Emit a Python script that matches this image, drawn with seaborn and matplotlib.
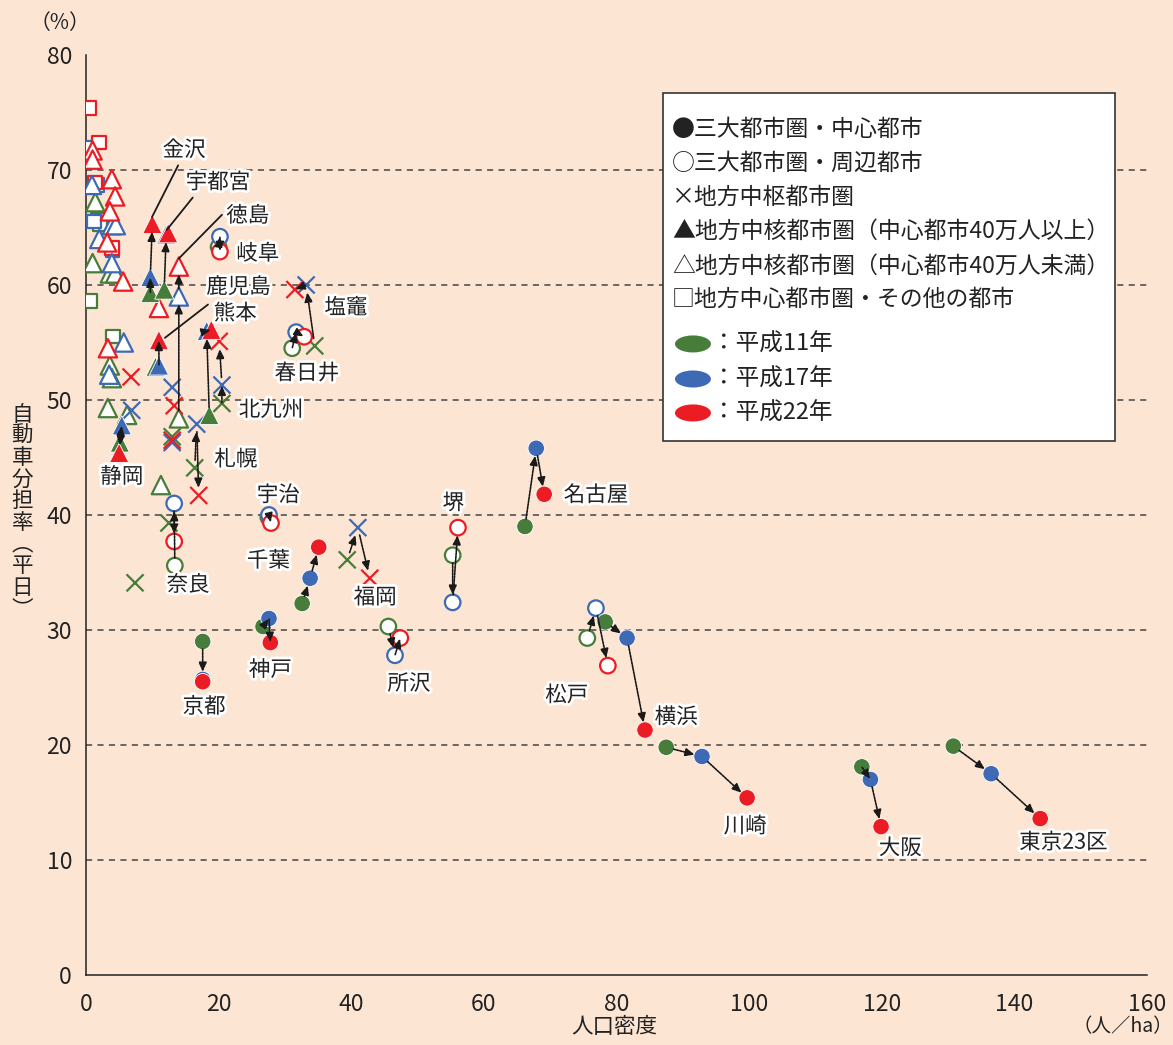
import numpy as np
import pandas as pd
import matplotlib
matplotlib.use("Agg")
import matplotlib.pyplot as plt
import matplotlib.patheffects as pe
from matplotlib.patches import Rectangle, Ellipse
import seaborn as sns

sns.set_theme(style="white")
plt.rcParams['font.family'] = ['Noto Sans CJK JP', 'DejaVu Sans']

BG = "#FDE5D3"
GREEN = "#477C3B"
BLUE = "#3D69B5"
RED = "#EC1C24"

# ---------------- data ----------------
years = ["H11", "H17", "H22"]

# named cities: density (x) and car share (y) for H11, H17, H22
cities = ["東京23区", "大阪", "川崎", "横浜", "松戸", "名古屋", "堺", "所沢", "福岡",
          "千葉", "神戸", "京都", "宇治", "奈良", "札幌", "北九州", "熊本", "鹿児島",
          "金沢", "宇都宮", "静岡", "徳島", "岐阜", "塩竈", "春日井"]
city_cat = ["core", "core", "core", "core", "suburb", "core", "suburb", "suburb", "hub",
            "core", "core", "core", "suburb", "suburb", "hub", "hub", "mid_big", "mid_big",
            "mid_big", "mid_big", "mid_big", "mid_small", "suburb", "hub", "suburb"]
x_h11 = [130.8, 117.0, 87.5, 78.3, 75.6, 66.2, 55.3, 45.6, 39.4,
         32.6, 26.7, 17.6, 27.5, 13.4, 16.4, 20.5, 18.6, 10.5,
         9.7, 11.8, 5.1, 14.0, 20.0, 34.5, 31.1]
y_h11 = [19.9, 18.1, 19.8, 30.7, 29.3, 39.0, 36.5, 30.3, 36.1,
         32.3, 30.3, 29.0, 39.8, 35.6, 44.1, 49.7, 48.7, 52.9,
         59.3, 59.6, 46.3, 48.4, 63.3, 54.7, 54.5]
x_h17 = [136.5, 118.3, 92.9, 81.6, 76.9, 67.9, 55.3, 46.6, 41.0,
         33.8, 27.6, 17.6, 27.6, 13.3, 16.7, 20.5, 18.2, 11.0,
         9.7, 12.1, 5.4, 14.0, 20.2, 33.2, 31.7]
y_h17 = [17.5, 17.0, 19.0, 29.3, 31.9, 45.8, 32.4, 27.8, 38.9,
         34.5, 31.0, 25.7, 40.0, 41.0, 47.9, 51.3, 56.0, 53.0,
         60.7, 64.4, 47.8, 59.0, 64.2, 60.0, 55.9]
x_h22 = [143.9, 119.9, 99.7, 84.3, 78.7, 69.1, 56.1, 47.4, 42.8,
         35.1, 27.8, 17.6, 27.9, 13.3, 17.0, 20.1, 18.9, 11.0,
         10.0, 12.4, 5.0, 14.0, 20.2, 31.5, 32.9]
y_h22 = [13.6, 12.9, 15.4, 21.3, 26.9, 41.8, 38.9, 29.3, 34.5,
         37.2, 28.9, 25.5, 39.3, 37.7, 41.7, 55.1, 56.1, 55.2,
         65.3, 64.5, 45.4, 61.6, 62.9, 59.6, 55.5]

# other (unlabelled) cities: category, year, x, y
other_cat = (["other"] * 12 + ["mid_small"] * 25 + ["hub"] * 9)
other_year = (["H22", "H17", "H22", "H17", "H22", "H11", "H11", "H22", "H17", "H11", "H11", "H17"]
              + ["H22", "H22", "H17", "H22", "H11", "H22", "H22", "H17", "H17", "H22", "H11",
                 "H17", "H11", "H11", "H22", "H22", "H22", "H17", "H11", "H17", "H11", "H11",
                 "H11", "H11", "H17"]
              + ["H22", "H17", "H17", "H22", "H11", "H22", "H17", "H11", "H11"])
other_x = ([0.45, 0.6, 2.0, 1.7, 1.4, 1.8, 2.1, 3.9, 4.0, 0.6, 4.1, 1.2]
           + [1.0, 1.0, 0.9, 3.9, 1.4, 4.4, 3.6, 3.9, 4.5, 3.2, 1.0,
              3.9, 3.6, 4.4, 5.6, 11.0, 3.3, 5.7, 3.6, 3.5, 3.9, 3.3,
              6.2, 11.3, 2.0]
           + [6.8, 6.9, 13.0, 13.3, 13.0, 13.0, 13.0, 12.5, 7.4])
other_y = ([75.4, 71.9, 72.4, 68.7, 68.9, 65.7, 65.3, 63.2, 63.0, 58.6, 55.5, 65.5]
           + [71.7, 70.9, 68.7, 69.2, 67.2, 67.7, 66.4, 65.2, 65.2, 63.7, 61.9,
              61.9, 61.0, 61.0, 60.3, 58.0, 54.5, 55.0, 53.0, 52.2, 51.9, 49.3,
              48.7, 42.6, 64.0]
           + [52.0, 49.1, 51.1, 49.5, 46.8, 46.5, 46.3, 39.3, 34.1])

# label positions (data coords) and optional leader line (start, end)
label_pos = {
    "金沢": (14.8, 71.7), "宇都宮": (19.9, 68.9), "徳島": (24.4, 66.0), "岐阜": (25.9, 62.7),
    "鹿児島": (23.0, 59.8), "熊本": (22.5, 57.5), "塩竈": (39.2, 58.0), "春日井": (33.3, 52.3),
    "北九州": (27.9, 49.1), "札幌": (22.6, 44.8), "静岡": (5.4, 43.3), "宇治": (29.0, 41.7),
    "堺": (55.4, 41.0), "名古屋": (76.9, 41.7), "千葉": (27.5, 36.0), "奈良": (15.4, 33.9),
    "福岡": (43.6, 32.8), "神戸": (27.8, 26.5), "京都": (17.8, 23.3), "所沢": (48.7, 25.3),
    "松戸": (72.5, 24.3), "横浜": (89.0, 22.4), "川崎": (99.4, 12.9), "大阪": (122.8, 11.0),
    "東京23区": (147.4, 11.5),
}
leaders = {
    "金沢": ((13.9, 70.4), (9.95, 65.9)),
    "宇都宮": ((16.1, 67.6), (12.2, 64.8)),
    "徳島": ((20.5, 66.1), (14.0, 62.3)),
    "鹿児島": ((18.4, 58.3), (11.9, 55.4)),
}

# ---------------- dataframe ----------------
rows = []
for i, c in enumerate(cities):
    for yr, xs, ys in zip(years, [x_h11, x_h17, x_h22], [y_h11, y_h17, y_h22]):
        rows.append(dict(city=c, cat=city_cat[i], year=yr, x=xs[i], y=ys[i]))
for c, yr, xv, yv in zip(other_cat, other_year, other_x, other_y):
    rows.append(dict(city="", cat=c, year=yr, x=xv, y=yv))
df = pd.DataFrame(rows)
order = {"H11": 0, "H17": 1, "H22": 2}
df["o"] = df["year"].map(order)
df = df.sort_values("o", kind="stable")

palette = {"H11": GREEN, "H17": BLUE, "H22": RED}

# ---------------- figure ----------------
fig = plt.figure(figsize=(11.73, 10.45), dpi=100, facecolor=BG)
ax = fig.add_axes([0.0733, 0.0670, 0.9045, 0.8804])
ax.set_facecolor(BG)

styles = {
    "other": dict(marker="s", s=95, filled=False),
    "mid_small": dict(marker="^", s=175, filled=False),
    "hub": dict(marker="x", s=150, filled=None),
    "mid_big": dict(marker="^", s=190, filled=True),
    "suburb": dict(marker="o", s=125, filled=False),
    "core": dict(marker="o", s=140, filled=True),
}
for cat in ["other", "mid_small", "hub", "mid_big", "suburb", "core"]:
    sub = df[df["cat"] == cat]
    st = styles[cat]
    if st["filled"] is None:
        sns.scatterplot(data=sub, x="x", y="y", hue="year", palette=palette,
                        marker=st["marker"], s=st["s"], linewidth=1.6,
                        legend=False, ax=ax, zorder=3)
    elif st["filled"]:
        sns.scatterplot(data=sub, x="x", y="y", hue="year", palette=palette,
                        marker=st["marker"], s=st["s"], linewidth=0.6,
                        edgecolor="white", legend=False, ax=ax, zorder=3)
    else:
        sns.scatterplot(data=sub, x="x", y="y", hue="year", palette=palette,
                        marker=st["marker"], s=st["s"], linewidth=1.6,
                        legend=False, ax=ax, zorder=3)
        coll = ax.collections[-1]
        fc = coll.get_facecolors()
        coll.set_edgecolors(fc)
        coll.set_facecolors("white")

# arrows between years
PX_X = 6.63
PX_Y = 11.5
for i, c in enumerate(cities):
    pts = [(x_h11[i], y_h11[i]), (x_h17[i], y_h17[i]), (x_h22[i], y_h22[i])]
    for a, b in [(pts[0], pts[1]), (pts[1], pts[2])]:
        d = np.hypot((b[0] - a[0]) * PX_X, (b[1] - a[1]) * PX_Y)
        if d < 4:
            continue
        sh = 5.5 if d > 26 else 0.5
        ax.annotate("", xy=b, xytext=a,
                    arrowprops=dict(arrowstyle="-|>,head_length=0.45,head_width=0.2",
                                    color="#1a1a1a", lw=1.2, linestyle=(0, (1.2, 0.8)),
                                    shrinkA=sh, shrinkB=sh),
                    zorder=5)

# city labels
for name, (lx, ly) in label_pos.items():
    ax.text(lx, ly, name, fontsize=15.5, ha="center", va="center", color="#222222",
            zorder=6, path_effects=[pe.withStroke(linewidth=4, foreground="white")])
for name, (p0, p1) in leaders.items():
    ax.annotate("", xy=p1, xytext=p0,
                arrowprops=dict(arrowstyle="-", color="#1a1a1a", lw=1.3,
                                shrinkA=0, shrinkB=0), zorder=6)

# axes styling
ax.set_xlim(0, 160)
ax.set_ylim(0, 80)
ax.set_xticks(np.arange(0, 161, 20))
ax.set_yticks(np.arange(0, 81, 10))
ax.tick_params(axis="both", labelsize=16.5, length=0, colors="#222222")
ax.tick_params(axis="y", pad=10)
ax.tick_params(axis="x", pad=13)
for yv in range(10, 80, 10):
    ax.axhline(yv, color="#444444", lw=1.1, linestyle=(0, (4, 3.5)), zorder=1)
for side in ["top", "right"]:
    ax.spines[side].set_visible(False)
for side in ["left", "bottom"]:
    ax.spines[side].set_color("#222222")
    ax.spines[side].set_linewidth(1.1)
ax.set_xlabel("")
ax.set_ylabel("")

# axis titles
fig.text(0.051, 0.978, "（%）", fontsize=15, ha="center", va="center", color="#222222")
fig.text(0.524, 0.017, "人口密度", fontsize=15.5, ha="center", va="center", color="#222222")
fig.text(0.957, 0.018, "（人／ha）", fontsize=14, ha="center", va="center", color="#222222")
fig.text(0.019, 0.510, "\n".join("自動車分担率︵平日︶"), fontsize=15.5, ha="center",
         va="center", color="#222222", linespacing=0.98)

# legend (manual box)
ax.add_patch(Rectangle((0.5438, 0.5804), 0.4260, 0.3783, transform=ax.transAxes,
                       facecolor="white", edgecolor="#333333", lw=1.2, zorder=8))
leg_rows = ["●三大都市圏・中心都市", "○三大都市圏・周辺都市", "×地方中枢都市圏",
            "▲地方中核都市圏（中心都市40万人以上）", "△地方中核都市圏（中心都市40万人未満）",
            "□地方中心都市圏・その他の都市"]
leg_y = [0.9196, 0.8826, 0.8457, 0.8087, 0.7707, 0.7348]
for t, yy in zip(leg_rows, leg_y):
    ax.text(0.5525, yy, t, transform=ax.transAxes, fontsize=16.5, ha="left", va="center",
            color="#222222", zorder=9)
year_labels = ["：平成11年", "：平成17年", "：平成22年"]
year_y = [0.6859, 0.6478, 0.6109]
for t, yy, col in zip(year_labels, year_y, [GREEN, BLUE, RED]):
    ax.add_patch(Ellipse((0.5721, yy), 0.0339, 0.0185, transform=ax.transAxes,
                         facecolor=col, edgecolor="none", zorder=9))
    ax.text(0.5905, yy, t, transform=ax.transAxes, fontsize=17, ha="left", va="center",
            color="#222222", zorder=9)

fig.savefig("out.png", dpi=100, facecolor=BG)
